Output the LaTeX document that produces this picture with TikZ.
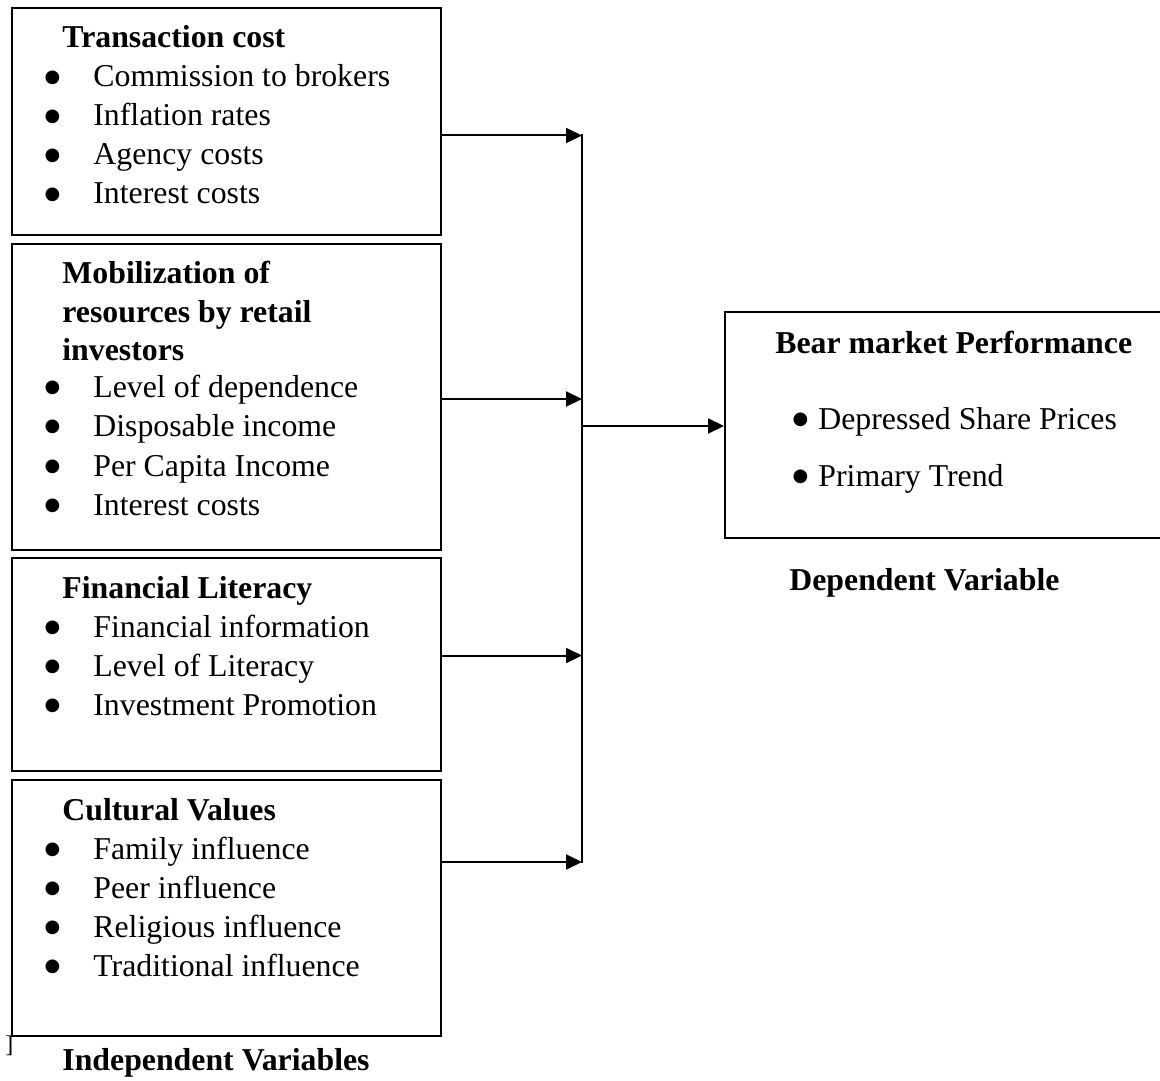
\documentclass[tikz,border=0pt]{standalone}
\usepackage{fontspec}
\setmainfont{Liberation Serif}
\newfontfamily\symfont{DejaVu Sans}
\usepackage{tikz}
\usetikzlibrary{positioning}
\usetikzlibrary{arrows.meta}

\tikzset{
  box/.style={draw, line width=1pt, minimum width=214.5pt, inner sep=0pt},
  txt/.style={anchor=base west, inner sep=0pt, font=\fontsize{15.9}{19}\selectfont},
  head/.style={txt, font=\fontsize{15.9}{19}\selectfont\bfseries},
  feed/.style={line width=1pt, -{Triangle[length=8pt,width=7.5pt]}}
}
\newcommand{\bigdot}{\raisebox{2.4pt}{\symfont\fontsize{9}{10}\selectfont ●}}
\newcommand{\blt}{\llap{\bigdot\hspace{16.5pt}}}
\newcommand{\bltr}{\llap{\bigdot\hspace{5pt}}}

\begin{document}
\begin{tikzpicture}[x=0.5pt,y=-0.5pt]

\useasboundingbox (0,0) rectangle (1160,1080);

%boxes on the left
\node[box, minimum height=113.5pt] (cost) at (226.5,121.5) {};
\node[box, minimum height=153pt] (mobil) at (226.5,397) {};
\node[box, minimum height=106.5pt] (liter) at (226.5,664.5) {};
\node[box, minimum height=128pt] (cult) at (226.5,908) {};

%box on the right
\node[box, minimum width=220pt, minimum height=113pt] (bear) at (945,425) {};

%texts
\node[head] (cost-h) at (62,48) {Transaction cost};
\foreach \t [count=\i] in {Commission to brokers, Inflation rates, Agency costs, Interest costs}
  \node[txt] (cost-\i) at (93,48+39*\i) {\blt\t};

\node[head] (mobil-h1) at (62,284) {Mobilization of};
\node[head] (mobil-h2) at (62,322) {resources by retail};
\node[head] (mobil-h3) at (62,360) {investors};
\foreach \t [count=\i] in {Level of dependence, Disposable income, Per Capita Income, Interest costs}
  \node[txt] (mobil-\i) at (93,357.5+39.5*\i) {\blt\t};

\node[head] (liter-h) at (62,598) {Financial Literacy};
\foreach \t [count=\i] in {Financial information, Level of Literacy, Investment Promotion}
  \node[txt] (liter-\i) at (93,598+39*\i) {\blt\t};

\node[head] (cult-h) at (62,820) {Cultural Values};
\foreach \t [count=\i] in {Family influence, Peer influence, Religious influence, Traditional influence}
  \node[txt] (cult-\i) at (93,820+39*\i) {\blt\t};

\node[head] (bear-h) at (775,353) {Bear market Performance};
\node[txt] (bear-1) at (818,429) {\bltr Depressed Share Prices};
\node[txt] (bear-2) at (818,486) {\bltr Primary Trend};

\node[head] (dep) at (789,590) {Dependent Variable};
\node[head] (indep) at (62,1070) {Independent Variables};
\node[txt, font=\fontsize{12}{14}\selectfont] (brk) at (5,1052) {]};

%connectors
\coordinate (in1) at (582,135.5);
\coordinate (in2) at (582,399);
\coordinate (in3) at (582,655.5);
\coordinate (in4) at (582,862);
\coordinate (out) at (582,426);

\draw[line width=1pt] (582,134) -- (582,863);
\draw[feed] (cost.east |- in1) -- (in1);
\draw[feed] (mobil.east |- in2) -- (in2);
\draw[feed] (liter.east |- in3) -- (in3);
\draw[feed] (cult.east |- in4) -- (in4);
\draw[feed] (out) -- (bear.west |- out);

\end{tikzpicture}
\end{document}
